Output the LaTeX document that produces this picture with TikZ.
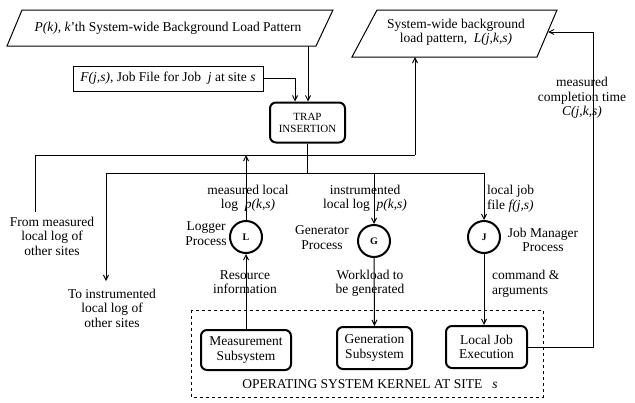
\documentclass[tikz,border=0pt]{standalone}
\usepackage{fontspec}
\setmainfont{Liberation Serif}
\usetikzlibrary{arrows.meta}
\begin{document}
\begin{tikzpicture}[x=1pt,y=-1pt,
  line/.style={line width=1pt},
  arr/.style={line width=1pt,-{Straight Barb[length=5pt,width=5pt]}},
  rbox/.style={draw,line width=2pt,rounded corners=6pt,align=center,inner sep=0pt,font=\fontsize{13.5}{14.5}\selectfont},
  proc/.style={draw,circle,line width=2pt,minimum size=32pt,inner sep=0pt,font=\bfseries\fontsize{10}{11}\selectfont},
  lbl/.style={align=center,inner sep=0pt,font=\fontsize{13.5}{14.5}\selectfont},
]
\useasboundingbox (0,0) rectangle (635,402);

% parallelogram 1
\draw[line] (22,10) -- (333,10) -- (316,46) -- (7,46) -- cycle;
\node[lbl] (Ptxt) at (168,28) {\textit{P(k), k}'th System-wide Background Load Pattern};
\coordinate (p1b) at (308,46);

% parallelogram 2
\draw[line] (377,10) -- (557,10) -- (537,57) -- (352,57) -- cycle;
\node[lbl] (Ltxt) at (456,32.5) {System-wide background\\load pattern,\ \ \textit{L(j,k,s)}};
\coordinate (p2b) at (415,57);
\coordinate (p2r) at (548,32);

% job file box
\node[draw,line width=1pt,minimum width=190pt,minimum height=25pt,inner sep=0pt,font=\fontsize{13.5}{14.5}\selectfont] (F) at (168,78.5) {\textit{F(j,s)}, Job File for Job\ \ \textit{j} at site \textit{s}};

% trap insertion
\node[rbox,minimum width=75pt,minimum height=40pt,font=\fontsize{11}{12}\selectfont] (T) at (307.5,122.5) {TRAP\\INSERTION};

% processes
\node[proc] (L) at (246,237) {L};
\node[proc] (G) at (374,241) {G};
\node[proc] (J) at (484,237) {J};

% kernel
\draw[line,dashed] (191,310) rectangle (543,397);
\node[rbox,minimum width=90pt,minimum height=40pt] (M) at (246,350) {Measurement\\Subsystem};
\node[rbox,minimum width=75pt,minimum height=42pt] (Gen) at (374.5,348) {Generation\\Subsystem};
\node[rbox,minimum width=81pt,minimum height=42pt] (E) at (486.5,347) {Local Job\\Execution};
\node[lbl] (K) at (370,384) {OPERATING SYSTEM KERNEL AT SITE\ \ \ \textit{s}};

% coordinates for bus lines
\coordinate (b1l) at (35,155);
\coordinate (b1r) at (415,155);
\coordinate (b1e) at (35,212);
\coordinate (b2l) at (106,173);
\coordinate (b2r) at (484,173);
\coordinate (toO) at (106,281);
\coordinate (fb) at (593,347);

% connectors top
\draw[arr] (F.east) -| ([xshift=-12.5pt]T.north);
\draw[arr] (p1b) -- (p1b |- T.north);
\draw[line] (b1e) -- (b1l) -- (b1r);
\draw[arr] (b1r) -- (p2b);
\draw[arr] (L.north) -- (L.north |- b1l);
\draw[line] (T.south) -- (T.south |- b2l);
\draw[line] (b2l) -- (b2r);
\draw[arr] (b2l) -- (toO);
\draw[arr] (G.north |- b2l) -- (G.north);
\draw[arr] (b2r) -- (J.north);
\draw[arr] (E.east) -- (fb) |- (p2r);

% connectors bottom
\draw[arr] (M.north) -- (L.south);
\draw[arr] (G.south) -- (Gen.north);
\draw[arr] (J.south) -- (J.south |- E.north);

% labels
\node[lbl] (l1) at (248,198.5) {measured local\\log\ \ \textit{p(k,s)}};
\node[lbl] (l2) at (206,233.5) {Logger\\Process};
\node[lbl] (l3) at (365,198.5) {instrumented\\local log\ \ \textit{p(k,s)}};
\node[lbl] (l4) at (322,237.5) {Generator\\Process};
\node[lbl,align=left,anchor=west] (l5) at (487,199) {local job\\file \textit{f(j,s)}};
\node[lbl] (l6) at (543,240) {Job Manager\\Process};
\node[lbl] (l7) at (582,98) {measured\\completion time\\\textit{C(j,k,s)}};
\node[lbl] (l8) at (245,282) {Resource\\information};
\node[lbl] (l9) at (370,283.5) {Workload to\\be generated};
\node[lbl,align=left,anchor=west] (l10) at (492,284) {command \&\\arguments};
\node[lbl] (l11) at (52,236) {From measured\\local log of\\other sites};
\node[lbl] (l12) at (112,308) {To instrumented\\local log of\\other sites};
\end{tikzpicture}
\end{document}
